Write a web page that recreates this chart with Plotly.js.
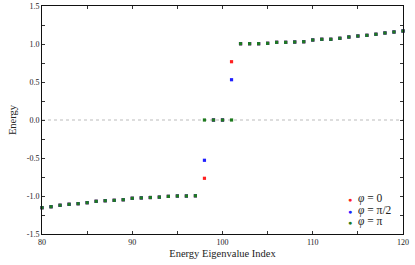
<!DOCTYPE html>
<html>
<head>
<meta charset="utf-8">
<script src="https://cdn.plot.ly/plotly-3.0.1.min.js"></script>
<style>html,body{margin:0;padding:0;background:#fff;}#chart{width:415px;height:265px;}</style>
</head>
<body>
<div id="chart"></div>
<script>
// Energy eigenvalue index 80..120
const indices = [80,81,82,83,84,85,86,87,88,89,90,91,92,93,94,95,96,97,98,99,100,101,102,103,104,105,106,107,108,109,110,111,112,113,114,115,116,117,118,119,120];
// phi = pi (all other series share these values except at edge modes)
const energyPi = [-1.154,-1.141,-1.122,-1.109,-1.101,-1.088,-1.070,-1.062,-1.057,-1.049,-1.030,-1.025,-1.020,-1.015,-1.005,-1.000,-1.000,-0.997,
  0.0,0.0,0.0,0.0,
  1.004,1.004,1.004,1.009,1.022,1.022,1.026,1.030,1.053,1.062,1.062,1.075,1.092,1.105,1.114,1.128,1.145,1.158,1.171];
const energyZero = [-1.154,-1.141,-1.122,-1.109,-1.101,-1.088,-1.070,-1.062,-1.057,-1.049,-1.030,-1.025,-1.020,-1.015,-1.005,-1.000,-1.000,-0.997,
  -0.767,0.0,0.0,0.767,
  1.004,1.004,1.004,1.009,1.022,1.022,1.026,1.030,1.053,1.062,1.062,1.075,1.092,1.105,1.114,1.128,1.145,1.158,1.171];
const energyHalfPi = [-1.154,-1.141,-1.122,-1.109,-1.101,-1.088,-1.070,-1.062,-1.057,-1.049,-1.030,-1.025,-1.020,-1.015,-1.005,-1.000,-1.000,-0.997,
  -0.530,0.0,0.0,0.530,
  1.004,1.004,1.004,1.009,1.022,1.022,1.026,1.030,1.053,1.062,1.062,1.075,1.092,1.105,1.114,1.128,1.145,1.158,1.171];
const seriesNames = ['<i>φ</i> = 0','<i>φ</i> = π/2','<i>φ</i> = π'];
const seriesColors = ['#ff2020','#2020ff','#1e7a1e'];
const xTickVals = [80,90,100,110,120];
const yTickVals = [-1.5,-1.0,-0.5,0.0,0.5,1.0,1.5];
const yTickText = ['-1.5','-1.0','-0.5','0.0','0.5','1.0','1.5'];

const serif = 'Liberation Serif, DejaVu Serif, serif';
const dataSets = [energyZero, energyHalfPi, energyPi];
const traces = dataSets.map((ys, k) => ({
  x: indices, y: ys, type: 'scatter', mode: 'markers', name: seriesNames[k],
  marker: {color: seriesColors[k], size: 3.2, symbol: 'square'},
  cliponaxis: false, showlegend: false
}));

// compact legend drawn as text annotations
const legendAnn = seriesNames.map((nm, k) => ({
  xref: 'paper', yref: 'paper', x: 0.843, y: 0.155 - k * 0.05, xanchor: 'left', yanchor: 'middle',
  showarrow: false, align: 'left',
  text: '<span style="color:' + seriesColors[k] + ';font-size:7px">●</span>  ' + nm,
  font: {family: serif, size: 11.5, color: '#222'}
}));

const layout = {
  width: 415, height: 265,
  margin: {l: 42, r: 12, t: 6, b: 31},
  paper_bgcolor: '#fff', plot_bgcolor: '#fff',
  font: {family: serif, color: '#222', size: 8},
  showlegend: false,
  annotations: legendAnn,
  xaxis: {range: [80, 120], tickvals: xTickVals, ticktext: xTickVals.map(String),
    showgrid: false, zeroline: false, showline: true, linecolor: '#111', linewidth: 1, mirror: 'allticks',
    ticks: 'inside', ticklen: 3, tickcolor: '#333', tickfont: {family: serif, size: 8},
    minor: {dtick: 5, tick0: 80, ticks: 'inside', ticklen: 3, tickcolor: '#333', showgrid: false},
    title: {text: 'Energy Eigenvalue Index', font: {family: serif, size: 10.5}, standoff: 4}},
  yaxis: {range: [-1.5, 1.5], tickvals: yTickVals, ticktext: yTickText,
    showgrid: false, zeroline: false, showline: true, linecolor: '#111', linewidth: 1, mirror: 'allticks',
    ticks: 'inside', ticklen: 3, tickcolor: '#333', tickfont: {family: serif, size: 8},
    minor: {dtick: 0.25, tick0: 0, ticks: 'inside', ticklen: 3, tickcolor: '#333', showgrid: false},
    title: {text: 'Energy', font: {family: serif, size: 10.5}, standoff: 8}},
  shapes: [{type: 'line', xref: 'paper', x0: 0, x1: 1, yref: 'y', y0: 0, y1: 0,
    line: {color: '#bbb', width: 1, dash: 'dot'}, layer: 'below'}]
};
Plotly.newPlot('chart', traces, layout, {displayModeBar: false, staticPlot: true});
</script>
</body>
</html>
